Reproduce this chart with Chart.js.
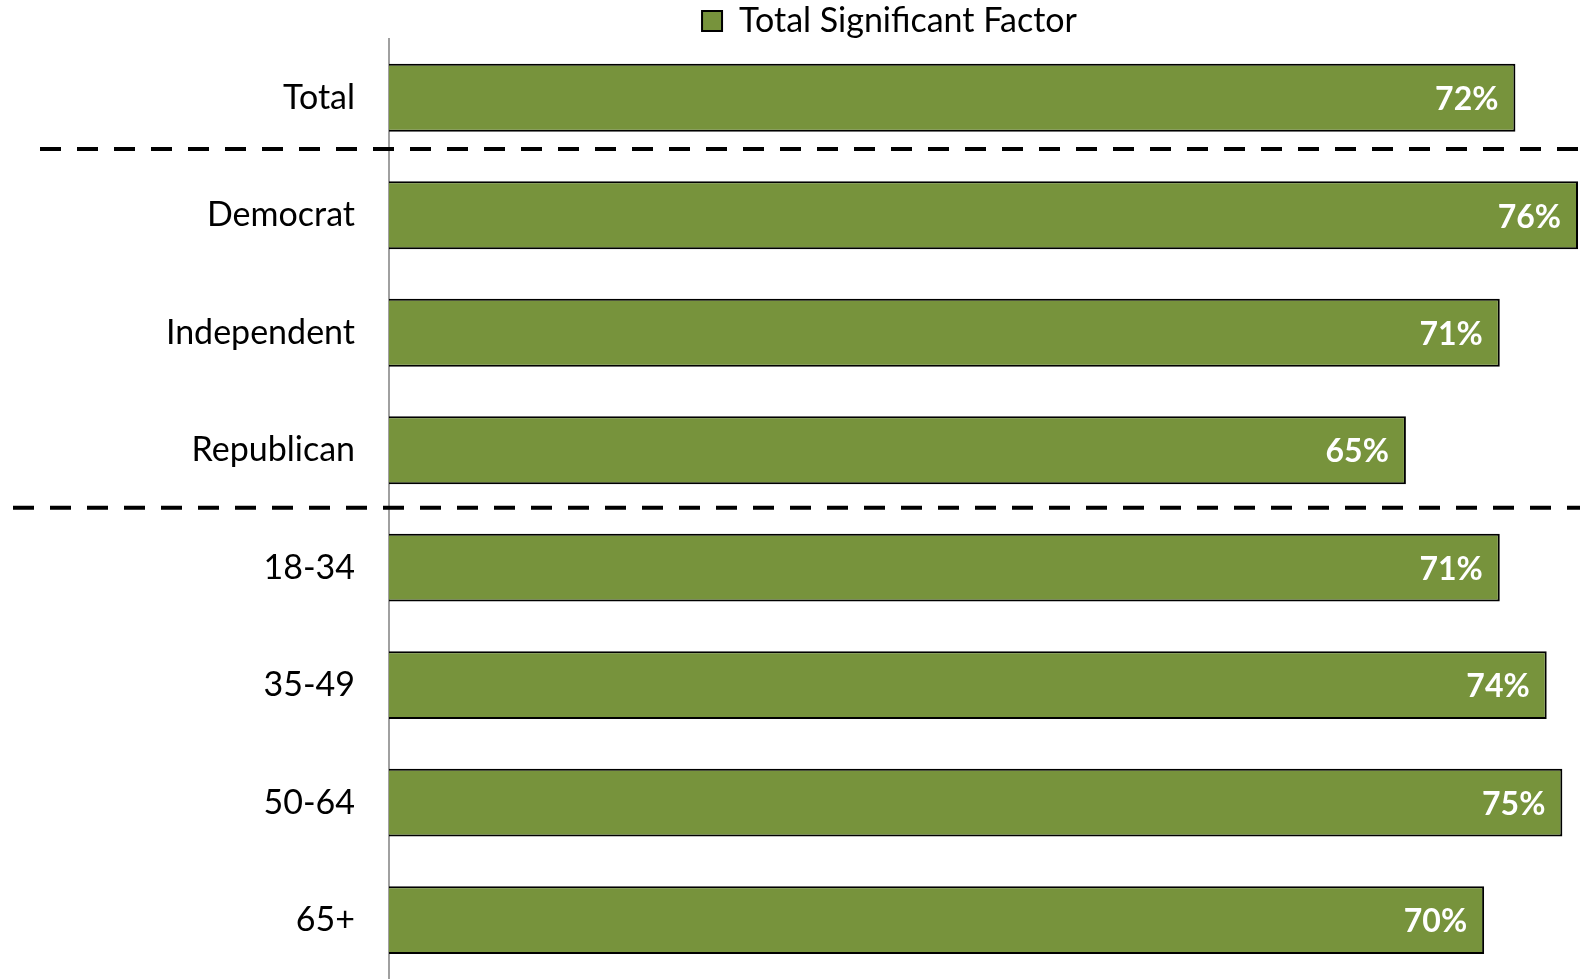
<!DOCTYPE html>
<html>
<head>
<meta charset="utf-8">
<script src="https://cdn.jsdelivr.net/npm/chart.js@4.4.1/dist/chart.umd.min.js"></script>
<style>
  html, body { margin: 0; padding: 0; background: #fff; }
  #wrap { width: 1580px; height: 979px; position: relative; }
</style>
</head>
<body>
<div id="wrap"><canvas id="c"></canvas></div>
<script>
const categories = ['Total', 'Democrat', 'Independent', 'Republican', '18-34', '35-49', '50-64', '65+'];
const seriesName = 'Total Significant Factor';
const values = [72, 76, 71, 65, 71, 74, 75, 70];
const dividerPositions = [0.436, 3.49];   // between category groups (index + fraction)
const dividerStartX = [40, 13];

const FONT = 'Lato, "Open Sans", sans-serif';

const labelPlugin = {
  id: 'barLabels',
  afterDatasetsDraw(chart) {
    const ctx = chart.ctx;
    const meta = chart.getDatasetMeta(0);
    ctx.save();
    ctx.font = 'bold 32px ' + FONT;
    ctx.fillStyle = '#ffffff';
    ctx.textAlign = 'right';
    ctx.textBaseline = 'middle';
    meta.data.forEach((bar, i) => {
      ctx.fillText(values[i] + '%', bar.x - 17, bar.y + 2);
    });
    ctx.restore();
  }
};

const dividerPlugin = {
  id: 'dividers',
  afterDraw(chart) {
    const ctx = chart.ctx;
    const y = chart.scales.y;
    ctx.save();
    ctx.strokeStyle = '#000';
    ctx.lineWidth = 4;
    ctx.setLineDash([21, 16]);
    dividerPositions.forEach((p, k) => {
      const base = Math.floor(p);
      const frac = p - base;
      const py = y.getPixelForValue(base) + frac * (y.getPixelForValue(base + 1) - y.getPixelForValue(base));
      ctx.beginPath();
      ctx.moveTo(dividerStartX[k], py);
      ctx.lineTo(chart.width, py);
      ctx.stroke();
    });
    ctx.restore();
  }
};

// shift the legend's horizontal band so its item is centred where the original sits
const legendShift = {
  id: 'legendShift',
  afterLayout(chart) {
    if (chart.legend) {
      chart.legend.left = 199;
      chart.legend.right = chart.width;
    }
  }
};

new Chart(document.getElementById('c'), {
  type: 'bar',
  data: {
    labels: categories,
    datasets: [{
      label: seriesName,
      data: values,
      backgroundColor: '#77933C',
      borderColor: '#000000',
      borderWidth: 2,
      categoryPercentage: 1,
      barPercentage: 0.578
    }]
  },
  options: {
    indexAxis: 'y',
    responsive: true,
    maintainAspectRatio: false,
    animation: false,
    layout: { padding: { left: 0, right: 2, top: 0, bottom: 0 } },
    plugins: {
      legend: {
        display: true,
        position: 'top',
        align: 'center',
        maxHeight: 39,
        labels: {
          boxWidth: 20,
          boxHeight: 20,
          padding: 4,
          color: '#000',
          font: { family: FONT, size: 34 }
        }
      },
      tooltip: { enabled: false }
    },
    scales: {
      x: {
        display: false,
        min: 0,
        max: 76
      },
      y: {
        afterFit(scale) { scale.width = 389; },
        grid: { display: false, drawTicks: true, tickLength: 34 },
        border: { display: true, color: '#a0a0a0', width: 2 },
        ticks: {
          color: '#000',
          padding: 0,
          font: { family: FONT, size: 34, lineHeight: 0.01 }
        }
      }
    }
  },
  plugins: [labelPlugin, dividerPlugin, legendShift]
});
</script>
</body>
</html>
